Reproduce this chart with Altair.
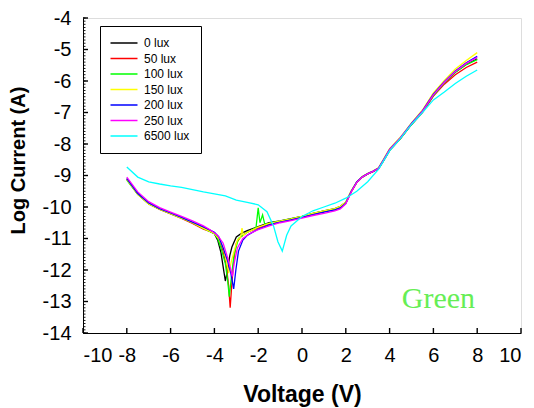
import altair as alt
import pandas as pd

# ---------------- data ----------------
series_names = ["0 lux", "50 lux", "100 lux", "150 lux", "200 lux", "250 lux", "6500 lux"]
series_colors = ["#000000", "#ff0000", "#00ff00", "#ffff00", "#0000ff", "#ff00ff", "#00ffff"]

v_0 = [-8, -7.5, -7, -6.5, -6, -5.5, -5, -4.5, -4, -3.85, -3.7, -3.6, -3.5, -3.4, -3.3, -3.2, -3.0,
       -2.75, -2.5, -2.0, -1.5, -1.0, -0.5, 0, 0.5, 1.0, 1.5, 1.75, 2.0, 2.25, 2.5, 2.75, 3.0, 3.25,
       3.5, 3.75, 4.0, 4.5, 5.0, 5.5, 6.0, 6.5, 7.0, 7.5, 8.0]
i_0 = [-9.1, -9.58, -9.88, -10.06, -10.2, -10.34, -10.5, -10.67, -10.85, -11.05, -11.45, -11.9, -12.35,
       -12.0, -11.55, -11.27, -10.95, -10.83, -10.75, -10.62, -10.5, -10.44, -10.37, -10.3, -10.2,
       -10.12, -10.05, -9.98, -9.85, -9.5, -9.22, -9.05, -8.95, -8.87, -8.78, -8.5, -8.2, -7.82,
       -7.38, -6.98, -6.45, -6.05, -5.72, -5.47, -5.3]

v_50 = [-8, -7.5, -7, -6.5, -6, -5.5, -5, -4.5, -4, -3.8, -3.6, -3.45, -3.35, -3.28, -3.2, -3.1, -3.0,
        -2.8, -2.5, -2.0, -1.5, -1.0, -0.5, 0, 0.5, 1.0, 1.5, 1.75, 2.0, 2.25, 2.5, 2.75, 3.0, 3.25,
        3.5, 3.75, 4.0, 4.5, 5.0, 5.5, 6.0, 6.5, 7.0, 7.5, 8.0]
i_50 = [-9.12, -9.6, -9.9, -10.08, -10.22, -10.36, -10.52, -10.7, -10.82, -11.0, -11.4, -11.9, -12.5,
        -13.2, -12.4, -11.6, -11.15, -10.95, -10.8, -10.66, -10.54, -10.47, -10.4, -10.32, -10.23,
        -10.15, -10.08, -10.02, -9.88, -9.52, -9.22, -9.05, -8.95, -8.88, -8.78, -8.5, -8.2, -7.82,
        -7.38, -7.0, -6.48, -6.1, -5.8, -5.57, -5.4]

v_100 = [-8, -7.5, -7, -6.5, -6, -5.5, -5, -4.5, -4, -3.85, -3.7, -3.5, -3.4, -3.32, -3.22, -3.1,
         -2.9, -2.5, -2.1, -2.0, -1.92, -1.8, -1.7, -1.5, -1.0, -0.5, 0, 0.5, 1.0, 1.5, 1.75, 2.0,
         2.25, 2.5, 2.75, 3.0, 3.25, 3.5, 3.75, 4.0, 4.5, 5.0, 5.5, 6.0, 6.5, 7.0, 7.5, 8.0]
i_100 = [-9.15, -9.6, -9.9, -10.07, -10.21, -10.35, -10.5, -10.68, -10.85, -11.0, -11.3, -11.8,
         -12.3, -12.85, -12.2, -11.5, -11.0, -10.8, -10.65, -10.03, -10.5, -10.25, -10.55, -10.52,
         -10.45, -10.38, -10.3, -10.21, -10.13, -10.06, -10.0, -9.86, -9.5, -9.22, -9.05, -8.95,
         -8.87, -8.78, -8.5, -8.2, -7.82, -7.38, -6.98, -6.46, -6.06, -5.72, -5.48, -5.32]

v_150 = [-8, -7.5, -7, -6.5, -6, -5.5, -5, -4.5, -4, -3.8, -3.6, -3.45, -3.35, -3.25, -3.1, -2.95,
         -2.8, -2.74, -2.68, -2.5, -2.0, -1.5, -1.0, -0.5, 0, 0.5, 1.0, 1.5, 1.75, 2.0, 2.25, 2.5,
         2.75, 3.0, 3.25, 3.5, 3.75, 4.0, 4.5, 5.0, 5.5, 6.0, 6.5, 7.0, 7.5, 8.0]
i_150 = [-9.12, -9.6, -9.9, -10.07, -10.21, -10.35, -10.5, -10.68, -10.84, -11.0, -11.3, -11.7,
         -12.1, -11.8, -11.4, -11.05, -10.95, -10.67, -10.9, -10.8, -10.64, -10.52, -10.45, -10.38,
         -10.3, -10.2, -10.12, -10.05, -9.98, -9.84, -9.48, -9.2, -9.03, -8.93, -8.85, -8.75, -8.45,
         -8.15, -7.78, -7.33, -6.92, -6.38, -5.98, -5.62, -5.35, -5.1]

v_200 = [-8, -7.5, -7, -6.5, -6, -5.5, -5, -4.5, -4, -3.8, -3.6, -3.4, -3.25, -3.12, -3.02, -2.9,
         -2.7, -2.5, -2.0, -1.5, -1.0, -0.5, 0, 0.5, 1.0, 1.5, 1.75, 2.0, 2.25, 2.5, 2.75, 3.0, 3.25,
         3.5, 3.75, 4.0, 4.5, 5.0, 5.5, 6.0, 6.5, 7.0, 7.5, 8.0]
i_200 = [-9.1, -9.57, -9.87, -10.05, -10.19, -10.33, -10.48, -10.63, -10.8, -10.95, -11.3, -11.7,
         -12.1, -12.6, -12.0, -11.4, -11.05, -10.9, -10.7, -10.57, -10.48, -10.41, -10.33, -10.24,
         -10.16, -10.09, -10.03, -9.88, -9.5, -9.2, -9.04, -8.94, -8.86, -8.76, -8.47, -8.17, -7.8,
         -7.35, -6.95, -6.42, -6.02, -5.68, -5.42, -5.22]

v_250 = [-8, -7.5, -7, -6.5, -6, -5.5, -5, -4.5, -4.2, -3.85, -3.6, -3.4, -3.25, -3.18, -3.1, -2.95,
         -2.7, -2.4, -2.0, -1.5, -1.0, -0.5, 0, 0.5, 1.0, 1.5, 1.75, 2.0, 2.25, 2.5, 2.75, 3.0, 3.25,
         3.5, 3.75, 4.0, 4.5, 5.0, 5.5, 6.0, 6.5, 7.0, 7.5, 8.0]
i_250 = [-9.05, -9.52, -9.83, -10.02, -10.16, -10.3, -10.44, -10.6, -10.72, -10.9, -11.15, -11.6,
         -12.0, -12.2, -11.8, -11.3, -11.0, -10.85, -10.72, -10.6, -10.5, -10.43, -10.35, -10.27,
         -10.2, -10.12, -10.06, -9.9, -9.52, -9.22, -9.05, -8.95, -8.87, -8.77, -8.48, -8.18, -7.8,
         -7.36, -6.96, -6.44, -6.04, -5.7, -5.44, -5.25]

v_6500 = [-8, -7.5, -7, -6.5, -6, -5.5, -5, -4.5, -4, -3.5, -3, -2.5, -2, -1.6, -1.3, -1.1, -0.9,
          -0.7, -0.5, -0.25, 0, 0.5, 1.0, 1.5, 2.0, 2.5, 3.0, 3.5, 4.0, 4.5, 5.0, 5.5, 6.0, 6.5,
          7.0, 7.5, 8.0]
i_6500 = [-8.73, -9.05, -9.2, -9.27, -9.33, -9.38, -9.45, -9.52, -9.58, -9.65, -9.78, -9.85, -9.93,
          -10.15, -10.6, -11.1, -11.4, -10.9, -10.6, -10.45, -10.3, -10.12, -10.0, -9.88, -9.72,
          -9.5, -9.2, -8.8, -8.22, -7.82, -7.38, -7.0, -6.6, -6.35, -6.08, -5.85, -5.65]

series_v = [v_0, v_50, v_100, v_150, v_200, v_250, v_6500]
series_i = [i_0, i_50, i_100, i_150, i_200, i_250, i_6500]

x_ticks = [-10, -8, -6, -4, -2, 0, 2, 4, 6, 8, 10]
y_ticks = [-4, -5, -6, -7, -8, -9, -10, -11, -12, -13, -14]
y_minor = [round(-14 + k * 0.1, 1) for k in range(101)]

note_text = "Green"
note_v = 6.23
note_i = -13.21

# ---------------- build tables ----------------
rows = []
for order, (name, vs, cs) in enumerate(zip(series_names, series_v, series_i)):
    for k, (v, c) in enumerate(zip(vs, cs)):
        rows.append({"series": name, "order": order, "idx": k, "V": v, "I": c})
df = pd.DataFrame(rows)
note_df = pd.DataFrame([{"V": note_v, "I": note_i, "t": note_text}])
xtick_df = pd.DataFrame({"V": x_ticks})
ytick_df = pd.DataFrame({"I": y_ticks})
yminor_df = pd.DataFrame({"I": y_minor})

W, H = 438, 315
FONT = "Liberation Sans"
xs = alt.Scale(domain=[-10, 10], nice=False, zero=False)
ys = alt.Scale(domain=[-14, -4], nice=False, zero=False)
LBL = "'' + datum.value"

x_axis = alt.Axis(
    title="Voltage (V)", values=x_ticks, labelExpr=LBL, ticks=False, domain=True,
    domainColor="black", labelFontSize=20, labelFont=FONT, labelColor="black",
    labelPadding=12, titleFont=FONT, titleFontSize=23, titleFontWeight="bold",
    titleColor="black", titleY=68, titleBaseline="alphabetic", grid=False)
y_axis = alt.Axis(
    title="Log Current (A)", values=y_ticks, labelExpr=LBL, ticks=False, domain=True,
    domainColor="black", labelFontSize=20, labelFont=FONT, labelColor="black",
    labelPadding=12, titleFont=FONT, titleFontSize=20, titleFontWeight="bold",
    titleColor="black", titleX=-55, titleY=142, grid=False)

X = alt.X("V:Q", scale=xs, axis=x_axis)
Y = alt.Y("I:Q", scale=ys, axis=y_axis)

lines = alt.Chart(df).mark_line(strokeWidth=1.3, clip=True).encode(
    x=X, y=Y,
    color=alt.Color("series:N", sort=series_names,
                    scale=alt.Scale(domain=series_names, range=series_colors),
                    legend=alt.Legend(
                        title=None, orient="none", legendX=17, legendY=8,
                        strokeColor="black", fillColor="white", padding=11,
                        symbolType="M-3,0L3,0", symbolSize=81, symbolStrokeWidth=1.5,
                        symbolOffset=7, labelOffset=14, labelFontSize=12, labelFont=FONT,
                        labelColor="black", rowPadding=3.5)),
    order=alt.Order("idx:Q"),
    detail="series:N",
)

# inward tick marks along the left and bottom edges
xt = alt.Chart(xtick_df).mark_tick(size=5, thickness=1.4, color="black", opacity=1).encode(
    x=X, y=alt.value(H - 2.5))
yt = alt.Chart(ytick_df).mark_tick(size=5, thickness=1.4, color="black", opacity=1).encode(
    y=Y, x=alt.value(2.5))
ym = alt.Chart(yminor_df).mark_tick(size=2.5, thickness=0.9, color="black", opacity=1).encode(
    y=Y, x=alt.value(1.25))

note = alt.Chart(note_df).mark_text(
    font="Liberation Serif", fontSize=30, color="#66ee55", align="center",
    baseline="alphabetic").encode(x=X, y=Y, text="t:N")

chart = alt.layer(lines, xt, yt, ym, note).properties(
    width=W, height=H,
    autosize=alt.AutoSizeParams(type="none"),
    padding={"left": 75, "top": 10, "right": 5, "bottom": 74},
).configure_view(stroke="black", strokeWidth=1.2).configure(background="white")

chart.save("out.html", embed_options={"renderer": "svg", "actions": False})
